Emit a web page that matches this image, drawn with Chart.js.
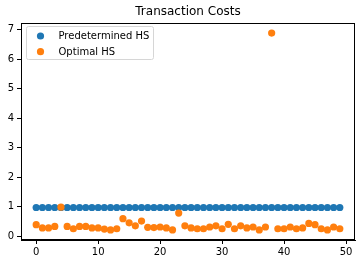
<!DOCTYPE html>
<html><head><meta charset="utf-8">
<script src="https://cdn.jsdelivr.net/npm/chart.js@4/dist/chart.umd.min.js"></script>
<style>html,body{margin:0;padding:0;background:#fff}#wrap{width:362px;height:264px}</style>
</head><body><div id="wrap"><canvas id="c" width="362" height="264"></canvas></div>
<script>
const periods = Array.from({length: 50}, (_, i) => i);
const predeterminedHS = [0.98,0.98,0.98,0.98,0.98,0.98,0.98,0.98,0.98,0.98,
  0.98,0.98,0.98,0.98,0.98,0.98,0.98,0.98,0.98,0.98,
  0.98,0.98,0.98,0.98,0.98,0.98,0.98,0.98,0.98,0.98,
  0.98,0.98,0.98,0.98,0.98,0.98,0.98,0.98,0.98,0.98,
  0.98,0.98,0.98,0.98,0.98,0.98,0.98,0.98,0.98,0.98];
const optimalHS = [0.40,0.29,0.29,0.34,0.99,0.34,0.26,0.34,0.34,0.29,
  0.29,0.25,0.22,0.26,0.60,0.46,0.36,0.52,0.31,0.30,
  0.32,0.29,0.22,0.79,0.36,0.29,0.26,0.26,0.32,0.36,
  0.26,0.41,0.26,0.36,0.29,0.32,0.22,0.32,6.88,0.26,
  0.26,0.32,0.26,0.29,0.44,0.40,0.26,0.22,0.32,0.26];
const xTicks = [0,10,20,30,40,50];
const yTicks = [0,1,2,3,4,5,6,7];
const seriesNames = ['Predetermined HS','Optimal HS'];
const colors = ['#1f77b4','#ff7f0e'];

const FONT = 'DejaVu Sans';
const toPts = arr => arr.map((v,i) => ({x: periods[i], y: v}));

const framePlugin = {
  id: 'frame',
  afterLayout(chart) {
    const t = chart.titleBlock, a = chart.chartArea;
    if (t) { t.left = a.left; t.right = a.right; t.width = a.right - a.left; }
  },
  afterDatasetsDraw(chart) {
    const {ctx, chartArea: a} = chart;
    ctx.save();
    ctx.strokeStyle = '#000';
    ctx.lineWidth = 1;
    ctx.strokeRect(Math.round(a.left)+0.5, Math.round(a.top)+0.5, Math.round(a.right-a.left)-1, Math.round(a.bottom-a.top)-1);
    // legend
    const lx = Math.round(a.left) + 5.5, ly = Math.round(a.top) + 3.5, lw = 127, lh = 33;
    ctx.beginPath();
    if (ctx.roundRect) ctx.roundRect(lx, ly, lw, lh, 2); else ctx.rect(lx, ly, lw, lh);
    ctx.fillStyle = 'rgba(255,255,255,0.8)';
    ctx.fill();
    ctx.strokeStyle = '#d6d6d6';
    ctx.stroke();
    ctx.font = '10px "' + FONT + '"';
    ctx.textBaseline = 'middle';
    ctx.textAlign = 'left';
    seriesNames.forEach((n, i) => {
      const cy = ly + 9.5 + i * 15.7;
      ctx.beginPath();
      ctx.arc(lx + 14, cy, 3.6, 0, Math.PI*2);
      ctx.fillStyle = colors[i];
      ctx.fill();
      ctx.fillStyle = '#000';
      ctx.fillText(n, lx + 32, cy + 0.5);
    });
    ctx.restore();
  }
};

new Chart(document.getElementById('c'), {
  type: 'scatter',
  data: {
    datasets: [
      {label: seriesNames[0], data: toPts(predeterminedHS), backgroundColor: colors[0], borderWidth: 0, pointRadius: 3.6, order: 1},
      {label: seriesNames[1], data: toPts(optimalHS), backgroundColor: colors[1], borderWidth: 0, pointRadius: 3.6, order: 0}
    ]
  },
  options: {
    responsive: false,
    animation: false,
    devicePixelRatio: 1,
    layout: {padding: {left: 0, right: 7, top: 0, bottom: 0}},
    plugins: {
      legend: {display: false},
      tooltip: {enabled: false},
      title: {display: true, text: 'Transaction Costs', color: '#000',
        font: {family: FONT, size: 12, weight: 'normal'}, padding: {top: 5, bottom: 3.6}}
    },
    scales: {
      x: {
        type: 'linear', min: -2.45, max: 51.45,
        afterBuildTicks: s => { s.ticks = xTicks.map(v => ({value: v})); },
        afterFit: s => { s.height = 24; },
        grid: {display: true, drawOnChartArea: false, drawTicks: true, tickLength: 4, color: '#000'},
        border: {display: true, color: '#000'},
        ticks: {color: '#000', padding: 2, maxRotation: 0, font: {family: FONT, size: 10}}
      },
      y: {
        type: 'linear', min: -0.12, max: 7.22,
        afterBuildTicks: s => { s.ticks = yTicks.map(v => ({value: v})); },
        afterFit: s => { s.width = 21; },
        grid: {display: true, drawOnChartArea: false, drawTicks: true, tickLength: 4, color: '#000'},
        border: {display: true, color: '#000'},
        ticks: {color: '#000', padding: 3, font: {family: FONT, size: 10}}
      }
    }
  },
  plugins: [framePlugin]
});
</script>
</body></html>
